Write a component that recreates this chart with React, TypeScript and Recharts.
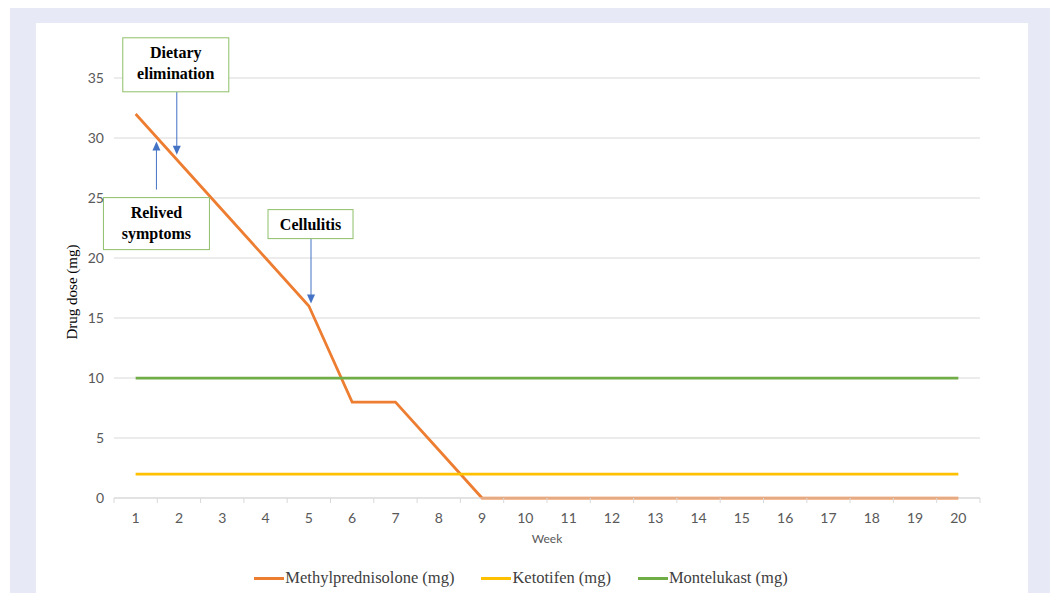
import {
  LineChart,
  Line,
  XAxis,
  YAxis,
  CartesianGrid,
  Legend,
  Label,
  ReferenceDot,
} from "recharts"

const weeks = [1, 2, 3, 4, 5, 6, 7, 8, 9, 10, 11, 12, 13, 14, 15, 16, 17, 18, 19, 20]
const methylprednisolone = [32, 28, 24, 20, 16, 8, 8, 4, 0, 0, 0, 0, 0, 0, 0, 0, 0, 0, 0, 0]
const ketotifen = [2, 2, 2, 2, 2, 2, 2, 2, 2, 2, 2, 2, 2, 2, 2, 2, 2, 2, 2, 2]
const montelukast = [10, 10, 10, 10, 10, 10, 10, 10, 10, 10, 10, 10, 10, 10, 10, 10, 10, 10, 10, 10]
const doseTicks = [0, 5, 10, 15, 20, 25, 30, 35]

const seriesInfo = [
  { key: "methylprednisolone", name: "Methylprednisolone (mg)", color: "#ed7d31" },
  { key: "ketotifen", name: "Ketotifen (mg)", color: "#ffc000" },
  { key: "montelukast", name: "Montelukast (mg)", color: "#70ad47" },
]

// arrow tips of the callouts, in week / dose units
const callouts = [
  { id: "diet", lines: ["Dietary", "elimination"], week: 1.95, dose: 28.6 },
  { id: "relief", lines: ["Relived", "symptoms"], week: 1.48, dose: 29.7 },
  { id: "cell", lines: ["Cellulitis"], week: 5.05, dose: 16.2 },
]

// box placement relative to the arrow tip (px)
const calloutBox: Record<string, { dx: number; dy: number; w: number; h: number; tail: number; ty: number }> = {
  diet: { dx: -54, dy: -117, w: 106, h: 54, tail: -63, ty: -2 },
  relief: { dx: -53, dy: 56, w: 106, h: 52, tail: 48, ty: -1 },
  cell: { dx: -43, dy: -94, w: 85, h: 29, tail: -65, ty: 0 },
}

const data = weeks.map((w, i) => ({
  week: w,
  methylprednisolone: methylprednisolone[i],
  ketotifen: ketotifen[i],
  montelukast: montelukast[i],
}))

const CHART_W = 992
const CHART_H = 570
const MARGIN = { top: 55, right: 48, left: 20, bottom: 3 }
const Y_AXIS_W = 58
const PLOT_W = CHART_W - MARGIN.left - MARGIN.right - Y_AXIS_W
const HALF_STEP = PLOT_W / weeks.length / 2

const tickFont = "Lato, 'Open Sans', sans-serif"
const serif = "'Liberation Serif', 'Times New Roman', serif"

function WeekTick(props: any) {
  const { x, y, payload, index } = props
  const last = index === weeks.length - 1
  return (
    <g>
      <line x1={x - HALF_STEP} x2={x - HALF_STEP} y1={y} y2={y + 5} stroke="#d9d9d9" />
      {last && <line x1={x + HALF_STEP} x2={x + HALF_STEP} y1={y} y2={y + 5} stroke="#d9d9d9" />}
      <text x={x} y={y + 20} dy=".35em" textAnchor="middle" fill="#595959" fontSize={14} fontFamily={tickFont}>
        {payload.value}
      </text>
    </g>
  )
}

function Callout({ cx, cy, id, lines }: any) {
  const b = calloutBox[id]
  const down = b.tail < 0
  const head = down
    ? `${cx - 4},${cy - 9} ${cx + 4},${cy - 9} ${cx},${cy}`
    : `${cx - 4},${cy + 9} ${cx + 4},${cy + 9} ${cx},${cy}`
  const bx = cx + b.dx
  const by = cy + b.dy
  const lineH = 21
  const firstY = by + b.h / 2 - ((lines.length - 1) * lineH) / 2 + b.ty
  return (
    <g>
      <line x1={cx} x2={cx} y1={cy + b.tail} y2={down ? cy - 8 : cy + 8} stroke="#4472c4" strokeWidth={1} />
      <polygon points={head} fill="#4472c4" />
      <rect x={bx} y={by} width={b.w} height={b.h} fill="#fff" stroke="#8fbf6a" strokeWidth={1} />
      {lines.map((t: string, i: number) => (
        <text
          key={t}
          x={bx + b.w / 2}
          y={firstY + i * lineH}
          dy=".35em"
          textAnchor="middle"
          fontFamily={serif}
          fontWeight="bold"
          fontSize={16}
          fill="#000"
        >
          {t}
        </text>
      ))}
    </g>
  )
}

function LegendContent() {
  return (
    <div
      style={{
        display: "flex",
        justifyContent: "center",
        alignItems: "center",
        height: 24,
        paddingRight: 22,
        gap: 27,
        fontFamily: serif,
        fontSize: 16.5,
        color: "#404040",
      }}
    >
      {seriesInfo.map((s) => (
        <div key={s.key} style={{ display: "flex", alignItems: "center" }}>
          <span style={{ display: "inline-block", width: 30, height: 3, background: s.color, marginRight: 1 }} />
          <span>{s.name}</span>
        </div>
      ))}
    </div>
  )
}

export default function App() {
  return (
    <div style={{ marginLeft: 2, width: 1048, height: 585, background: "#e7eaf6", position: "relative" }}>
      <div style={{ position: "absolute", left: 26, top: 15, width: CHART_W, height: CHART_H, background: "#fff" }}>
        <LineChart width={CHART_W} height={CHART_H} data={data} margin={MARGIN}>
          <CartesianGrid vertical={false} stroke="#d9d9d9" />
          <XAxis
            dataKey="week"
            type="number"
            domain={[0.5, 20.5]}
            ticks={weeks}
            interval={0}
            height={68}
            tickLine={false}
            tickSize={0}
            tickMargin={0}
            axisLine={{ stroke: "#d9d9d9" }}
            tick={<WeekTick />}
          >
            <Label
              content={({ viewBox }: any) => (
                <text
                  x={viewBox.x + viewBox.width / 2}
                  y={viewBox.y + 41}
                  dy=".35em"
                  textAnchor="middle"
                  fill="#595959"
                  fontSize={12}
                  fontFamily={tickFont}
                >
                  Week
                </text>
              )}
            />
          </XAxis>
          <YAxis
            width={Y_AXIS_W}
            domain={[0, 35]}
            ticks={doseTicks}
            tickLine={false}
            axisLine={false}
            tickMargin={4}
            tick={{ fill: "#595959", fontSize: 14, fontFamily: tickFont }}
          >
            <Label
              content={({ viewBox }: any) => {
                const x = viewBox.x + 16
                const y = viewBox.y + viewBox.height / 2 + 4
                return (
                  <text
                    x={x}
                    y={y}
                    transform={`rotate(-90 ${x} ${y})`}
                    textAnchor="middle"
                    dy=".35em"
                    fontFamily={serif}
                    fontSize={15}
                    fill="#000"
                  >
                    Drug dose (mg)
                  </text>
                )
              }}
            />
          </YAxis>
          {seriesInfo.map((s) => (
            <Line
              key={s.key}
              type="linear"
              dataKey={s.key}
              name={s.name}
              stroke={s.color}
              strokeWidth={2.75}
              dot={false}
              activeDot={false}
              isAnimationActive={false}
            />
          ))}
          <Legend
            verticalAlign="bottom"
            wrapperStyle={{ left: 0, width: CHART_W }}
            content={<LegendContent />}
          />
          {callouts.map((c) => (
            <ReferenceDot
              key={c.id}
              x={c.week}
              y={c.dose}
              r={0}
              zIndex={1000}
              shape={(p: any) => <Callout cx={p.cx} cy={p.cy} id={c.id} lines={c.lines} />}
            />
          ))}
        </LineChart>
      </div>
    </div>
  )
}
